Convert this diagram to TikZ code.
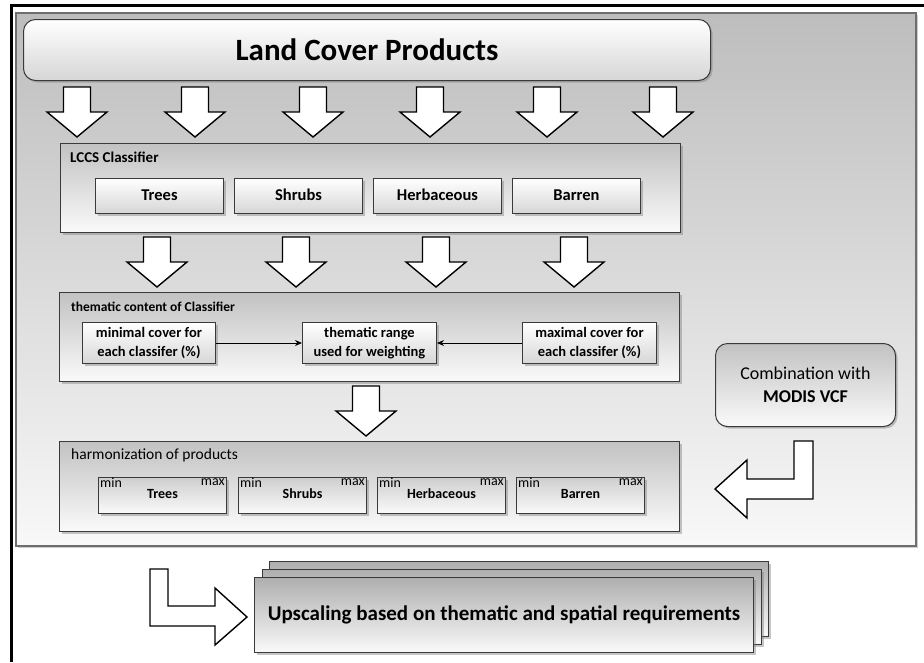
\documentclass[tikz,border=0pt]{standalone}
\usepackage{fontspec}
\setmainfont{Carlito}
\usetikzlibrary{shadows,arrows.meta}

\definecolor{paneltop}{HTML}{BDBDBD}
\definecolor{panelbot}{HTML}{F8F8F8}
\definecolor{frame}{HTML}{3A3A3A}
\definecolor{softframe}{HTML}{6E6E6E}
\definecolor{boxtop}{HTML}{C2C2C2}
\definecolor{boxbot}{HTML}{FAFAFA}
\definecolor{cellbot}{HTML}{D6D6D6}

\tikzset{
  panel/.style={draw=softframe, line width=1.2pt, top color=paneltop, bottom color=panelbot,
    drop shadow={shadow xshift=2pt, shadow yshift=-2pt, opacity=0.4}},
  groupbox/.style={draw=frame, line width=1pt, top color=boxtop, bottom color=boxbot,
    anchor=north west, inner sep=0pt, minimum width=620pt, minimum height=89pt,
    drop shadow={shadow xshift=2pt, shadow yshift=-2pt, opacity=0.45}},
  grouptitle/.style={anchor=west, inner sep=0pt, font=\fontsize{13.5}{15}\selectfont\bfseries},
  cellbox/.style={draw=frame, line width=1pt, top color=white, bottom color=cellbot,
    anchor=north west, inner sep=0pt, minimum width=128pt, minimum height=35pt,
    text height=11pt, text depth=3pt,
    drop shadow={shadow xshift=2pt, shadow yshift=-2pt, opacity=0.45}},
  rangebox/.style={cellbox, minimum width=134pt, minimum height=41pt, align=center,
    text height=, text depth=, font=\fontsize{14.5}{19}\selectfont\bfseries},
  roundbox/.style={draw=frame, line width=1pt, rounded corners=12pt, inner sep=0pt,
    anchor=north west, drop shadow={shadow xshift=2pt, shadow yshift=-2pt, opacity=0.45}},
  stackbox/.style={draw=frame, line width=1pt, top color=boxtop!90!black, bottom color=boxbot,
    anchor=north west, inner sep=0pt, minimum width=499pt, minimum height=75pt,
    drop shadow={shadow xshift=2pt, shadow yshift=-2pt, opacity=0.45}},
  tinylabel/.style={inner sep=0pt, font=\fontsize{14}{15}\selectfont},
  blockarrow/.style={draw=black, line width=1.4pt, fill=white, line join=miter},
  link/.style={draw=black, line width=0.9pt, -{Stealth[length=7pt,width=6pt]}},
  pics/downarrow/.style={code={
    \draw[blockarrow] (-13.5,0) -- (13.5,0) -- (13.5,25) -- (30,25) -- (0,50) -- (-30,25) -- (-13.5,25) -- cycle;}}
}

\begin{document}
\begin{tikzpicture}[x=1pt,y=-1pt]
  \useasboundingbox (0,0) rectangle (924,662);

  % outer frame and background panel
  \draw[line width=3pt] (11.5,662) -- (11.5,5.5) -- (924,5.5);
  \draw[panel] (16,13) rectangle (916,546);

  % source products
  \node[roundbox, top color=white, bottom color=cellbot, minimum width=687pt, minimum height=61pt,
        font=\fontsize{31}{34}\selectfont\bfseries] (products) at (23,19) {Land Cover Products};
  \foreach \ax in {77,195,313,430,547,663}
    \pic at (\ax,87) {downarrow};

  % LCCS classifier
  \node[groupbox] (lccs) at (60,143) {};
  \node[grouptitle, font=\fontsize{15}{16}\selectfont\bfseries] (lccstitle) at (70,157) {LCCS Classifier};
  \foreach \cx/\cname/\ctext in {95/trees/Trees,234/shrubs/Shrubs,373/herb/Herbaceous,512/barren/Barren}
    \node[cellbox, font=\fontsize{16.5}{18}\selectfont\bfseries] (\cname) at (\cx,178) {\ctext};
  \foreach \ax in {157,296,436,574}
    \pic at (\ax,237) {downarrow};

  % thematic content
  \node[groupbox] (thematic) at (59,292) {};
  \node[grouptitle] (thematictitle) at (71,307) {thematic content of Classifier};
  \node[rangebox, minimum width=133pt] (mincover) at (82,322) {minimal cover for\\each classifer (\%)};
  \node[rangebox] (range) at (302,322) {thematic range\\used for weighting};
  \node[rangebox] (maxcover) at (522,322) {maximal cover for\\each classifer (\%)};
  \draw[link] (mincover.east) -- (range.west);
  \draw[link] (maxcover.west) -- (range.east);
  \pic at (366,386) {downarrow};

  % harmonization
  \node[groupbox, minimum height=90pt] (harmon) at (59,441) {};
  \node[grouptitle, font=\fontsize{15.5}{17}\selectfont] (harmontitle) at (71,455) {harmonization of products};
  \foreach \hx/\hname/\htext in {98/htrees/Trees,238/hshrubs/Shrubs,377/hherb/Herbaceous,516/hbarren/Barren}{
    \node[cellbox, minimum height=36pt, top color=boxtop!80, bottom color=boxbot,
          font=\fontsize{14}{15}\selectfont\bfseries, text height=6pt, text depth=-1pt] (\hname) at (\hx,477) {\htext};
    \node[tinylabel, anchor=north west] (\hname min) at ([shift={(2pt,-1pt)}]\hname.north west) {min};
    \node[tinylabel, anchor=north east] (\hname max) at ([shift={(-2pt,-1pt)}]\hname.north east) {max};
  }

  % MODIS VCF
  \node[roundbox, top color=boxtop, bottom color=boxbot, minimum width=180pt, minimum height=83pt,
        align=center, font=\fontsize{18}{23}\selectfont] (modis) at (715,343)
        {Combination with\\\textbf{MODIS VCF}};
  \draw[blockarrow] (813,441) -- (794,441) -- (794,479) -- (747,479) -- (747,460) -- (715,489)
    -- (747,518) -- (747,499) -- (813,499) -- cycle;

  % upscaling
  \node[stackbox] (up3) at (269,561) {};
  \node[stackbox] (up2) at (262,569) {};
  \node[stackbox, font=\fontsize{21}{23}\selectfont\bfseries] (up1) at (254,577)
        {Upscaling based on thematic and spatial requirements};
  \draw[blockarrow] (150,569) -- (168,569) -- (168,606) -- (215,606) -- (215,588) -- (247,617)
    -- (215,645) -- (215,626) -- (150,626) -- cycle;
\end{tikzpicture}
\end{document}
